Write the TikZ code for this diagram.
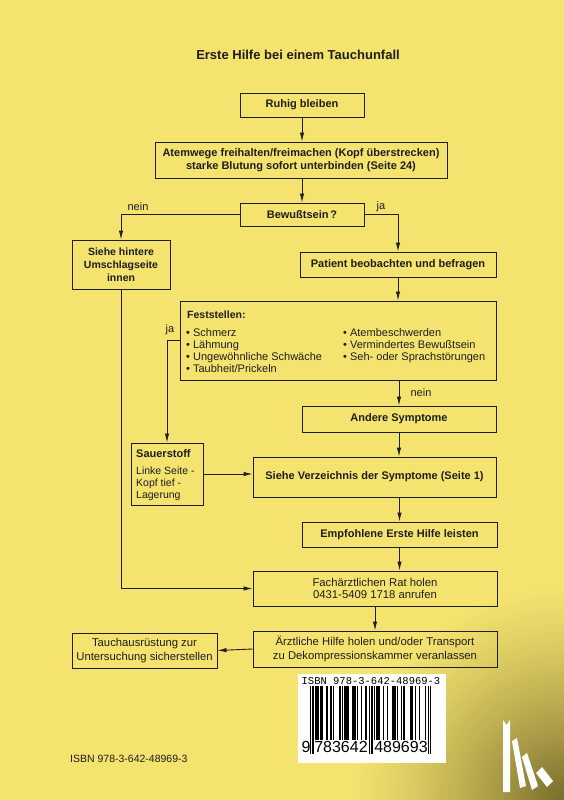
\documentclass[tikz,border=0pt]{standalone}
\usepackage{fontspec}
\setmainfont{Liberation Sans}
\setmonofont{Liberation Mono}
\usetikzlibrary{arrows.meta}
\definecolor{bg}{HTML}{F4E36F}
\definecolor{ink}{HTML}{1E1E1E}
\definecolor{cornerdark}{HTML}{766A2A}
\begin{document}
\begin{tikzpicture}[x=1pt,y=-1pt,
 box/.style={draw=ink, line width=0.9pt, inner sep=0pt, align=center, text=ink, font=\bfseries\fontsize{11}{13}\selectfont},
 plainbox/.style={box, font=\fontsize{11.3}{14}\selectfont},
 arr/.style={draw=ink, line width=0.9pt, -{Latex[length=9pt,width=4.4pt]}},
 lbl/.style={text=ink, font=\fontsize{11}{12}\selectfont, inner sep=0pt},
 item/.style={text=ink, font=\fontsize{11}{12}\selectfont, inner sep=0pt, anchor=base west},
]
\useasboundingbox (0,0) rectangle (564,800);
\fill[bg] (0,0) rectangle (564,800);
\begin{scope}
\clip (0,0) rectangle (564,800);
\foreach \r in {220,216,...,4}{
  \pgfmathtruncatemacro\p{100*(1-\r/220)^1.3}
  \fill[cornerdark!\p!bg] (564,800) circle (\r);
}
\end{scope}

% title
\node[font=\bfseries\fontsize{13}{15}\selectfont, text=ink] (title) at (298,55) {Erste Hilfe bei einem Tauchunfall};

% boxes
\node[box, minimum width=124, minimum height=24] (ruhig) at (302,105) {Ruhig bleiben};
\node[box, minimum width=292, minimum height=36] (atem) at (301,160) {Atemwege freihalten/freimachen (Kopf überstrecken)\\starke Blutung sofort unterbinden (Seite 24)};
\node[box, minimum width=124, minimum height=23] (bew) at (302,214.5) {Bewußtsein\,?};
\node[box, minimum width=98, minimum height=49, font=\bfseries\fontsize{10.5}{13}\selectfont] (siehe) at (121,264.5) {Siehe hintere\\Umschlagseite\\innen};
\node[box, minimum width=196, minimum height=25] (patient) at (398,264.5) {Patient beobachten und befragen};
\node[box, minimum width=316, minimum height=79] (fest) at (338,340.5) {};
\node[box, minimum width=194, minimum height=26] (andere) at (399,419) {Andere Symptome};
\node[box, minimum width=72, minimum height=62] (sauer) at (167,474) {};
\node[box, minimum width=243, minimum height=40] (verz) at (374.5,477) {Siehe Verzeichnis der Symptome (Seite 1)};
\node[box, minimum width=195, minimum height=25] (empf) at (399.5,534.5) {Empfohlene Erste Hilfe leisten};
\node[plainbox, minimum width=244, minimum height=35, font=\fontsize{11.3}{12.5}\selectfont] (fach) at (375,588.5) {Fachärztlichen Rat holen\\0431-5409 1718 anrufen};
\node[plainbox, minimum width=244, minimum height=36] (arzt) at (375,649) {Ärztliche Hilfe holen und/oder Transport\\zu Dekompressionskammer veranlassen};
\node[plainbox, minimum width=145, minimum height=35] (tauch) at (144.5,650.5) {Tauchausrüstung zur\\Untersuchung sicherstellen};

% Feststellen content
\node[anchor=base west, text=ink, inner sep=0pt, font=\bfseries\fontsize{10.5}{12}\selectfont] (fhead) at (187,318.5) {Feststellen:};
\node[item] (i1) at (186,336) {\textbullet\ Schmerz};
\node[item] (i2) at (186,348) {\textbullet\ Lähmung};
\node[item] (i3) at (186,360) {\textbullet\ Ungewöhnliche Schwäche};
\node[item] (i4) at (186,372.5) {\textbullet\ Taubheit/Prickeln};
\node[item] (j1) at (343,336) {\textbullet\ Atembeschwerden};
\node[item] (j2) at (343,348) {\textbullet\ Vermindertes Bewußtsein};
\node[item] (j3) at (343,360) {\textbullet\ Seh- oder Sprachstörungen};

% Sauerstoff content
\node[anchor=base west, text=ink, inner sep=0pt, font=\bfseries\fontsize{11}{12}\selectfont] (shead) at (136,457) {Sauerstoff};
\node[item, font=\fontsize{10.5}{12}\selectfont] (s1) at (136,474) {Linke Seite -};
\node[item, font=\fontsize{10.5}{12}\selectfont] (s2) at (136,486) {Kopf tief -};
\node[item, font=\fontsize{10.5}{12}\selectfont] (s3) at (136,498) {Lagerung};

% connectors
\draw[arr] (ruhig.south) -- (ruhig.south |- atem.north);
\draw[arr] (bew.north |- atem.south) -- (bew.north);
\draw[arr] (bew.west) -| (siehe.north);
\draw[arr] (bew.east) -| (patient.north);
\draw[arr] (patient.south) -- (patient.south |- fest.north);
\draw[arr] (andere.north |- fest.south) -- (andere.north);
\draw[arr] (fest.west) -| (sauer.north);
\draw[arr] (andere.south) -- (andere.south |- verz.north);
\draw[arr] (sauer.east) -- (sauer.east -| verz.west);
\draw[arr] (empf.north |- verz.south) -- (empf.north);
\draw[arr] (empf.south) -- (empf.south |- fach.north);
\draw[arr] (siehe.south) |- (fach.west);
\draw[arr] (arzt.north |- fach.south) -- (arzt.north);
\draw[arr] (arzt.west) -- (tauch.east);

% labels
\node[lbl] (lnein1) at (138,207) {nein};
\node[lbl] (lja1) at (381,207) {ja};
\node[lbl] (lja2) at (170,330) {ja};
\node[lbl] (lnein2) at (421,393) {nein};

% barcode
\fill[white] (298,674) rectangle (446,763);
\node[font=\ttfamily\fontsize{10.5}{11}\selectfont, inner sep=0pt, text=black] (isbnbar) at (371,681) {ISBN 978-3-642-48969-3};
\foreach \b [count=\i] in {1,0,1,
0,1,1,1,0,1,1, 0,0,0,1,0,0,1, 0,1,0,0,0,0,1, 0,1,0,1,1,1,1, 0,0,1,1,1,0,1, 0,0,1,0,0,1,1,
0,1,0,1,0,
1,0,1,1,1,0,0, 1,0,0,1,0,0,0, 1,1,1,0,1,0,0, 1,0,1,0,0,0,0, 1,1,1,0,1,0,0, 1,0,0,0,0,1,0,
1,0,1}{
  \ifnum\b=1
    \pgfmathtruncatemacro\g{(\i<4)+(\i>92)+and(\i>45,\i<51)}
    \ifnum\g>0
      \fill[black] (308.5+1.28*\i,686) rectangle ++(1.28,68);
    \else
      \fill[black] (308.5+1.28*\i,686) rectangle ++(1.28,54);
    \fi
  \fi
}
\node[font=\fontsize{16}{16}\selectfont, inner sep=0pt, text=black] (bd1) at (306,747) {9};
\node[font=\fontsize{16}{16}\selectfont, inner sep=0pt, text=black] (bdl) at (341,747) {783642};
\node[font=\fontsize{16}{16}\selectfont, inner sep=0pt, text=black] (bdr) at (401,747) {489693};

% isbn text
\node[anchor=west, font=\fontsize{10.5}{12}\selectfont, text=ink, inner sep=0pt] (isbn) at (70,759) {ISBN 978-3-642-48969-3};

% logo
\fill[white] (503,720) -- (506.5,725) -- (510,720) -- (510,792) -- (503,792) -- cycle;
\fill[white] (512,741) -- (517,738) -- (526,786) -- (520,788) -- cycle;
\fill[white] (522,757) -- (527,753) -- (538,786) -- (532,790) -- cycle;
\fill[white] (536,773) -- (542,767) -- (553,781) -- (547,787) -- cycle;
\end{tikzpicture}
\end{document}
